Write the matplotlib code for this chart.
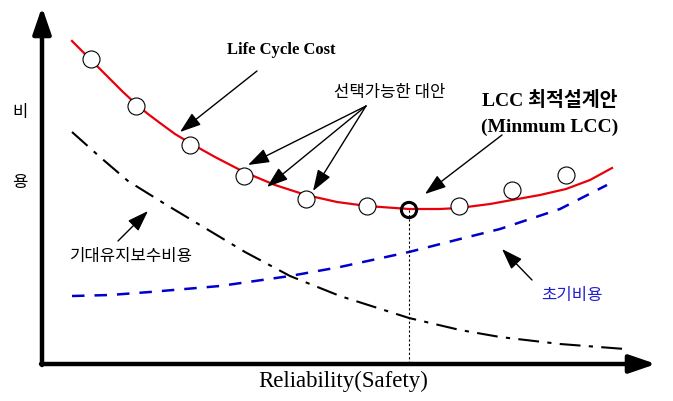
import matplotlib
matplotlib.use('Agg')
from matplotlib import pyplot as plt

# LCC curve (x: reliability position, y: cost in screen-like units, axis inverted)
lcc_x = [72, 91, 110, 123, 136, 148, 160, 175, 190, 215, 244, 275, 306, 337, 367, 409, 440, 459, 490, 512, 540, 566, 590, 612]
lcc_y = [42, 61, 80, 93, 105, 115, 124, 135, 144, 158, 173, 186, 196, 203, 207, 210, 210, 209, 205, 201, 196, 190, 181, 169]

# alternatives (circles) and the optimum
alt_x = [91, 136, 190, 244, 306, 367, 459, 512, 566]
alt_y = [60, 107, 146, 177, 200, 207, 207, 191, 176]
opt_x, opt_y = 409, 211

# expected maintenance cost (dash-dot)
maint_x = [72, 100, 128, 165, 200, 245, 290, 340, 409, 460, 500, 560, 625]
maint_y = [133, 158, 182, 205, 226, 253, 277, 297, 319, 331, 338, 345, 350]

# initial cost (dashed blue)
init_x = [72, 110, 150, 220, 290, 340, 409, 460, 500, 560, 607]
init_y = [297, 296, 293, 287, 277, 268, 253, 240, 230, 210, 186]

serif = ['Liberation Serif', 'Noto Sans CJK KR']
kr = ['Noto Sans CJK KR', 'DejaVu Sans']


def main():
    fig = plt.figure(figsize=(6.73, 4.02), dpi=100)
    ax = fig.add_axes([0, 0, 1, 1])
    ax.set_xlim(0, 673)
    ax.set_ylim(402, 0)
    ax.axis('off')

    # axes with arrows
    ax.annotate('', xy=(42, 8), xytext=(42, 366),
                arrowprops=dict(arrowstyle='-|>,head_length=1.6,head_width=0.55', lw=3.2,
                                color='black', shrinkA=0, shrinkB=0, mutation_scale=10))
    ax.annotate('', xy=(656, 365), xytext=(41, 365),
                arrowprops=dict(arrowstyle='-|>,head_length=1.6,head_width=0.55', lw=3.2,
                                color='black', shrinkA=0, shrinkB=0, mutation_scale=10))

    ax.plot(maint_x, maint_y, color='black', lw=1.5, linestyle=(0, (10, 4, 2, 4)))
    ax.plot(init_x, init_y, color='#0000cc', lw=1.8, linestyle=(0, (5, 4)))
    ax.plot(lcc_x, lcc_y, color='#e8000b', lw=1.6)

    ax.plot([opt_x, opt_x], [opt_y, 365], color='black', lw=0.8, linestyle=(0, (2, 2)))
    ax.scatter(alt_x, alt_y, s=150, facecolor='white', edgecolor='black', linewidth=0.8, zorder=5)
    ax.scatter([opt_x], [opt_y], s=120, facecolor='none', edgecolor='black', linewidth=2.2, zorder=5)

    arr = dict(arrowstyle='-|>,head_length=1.3,head_width=0.45', lw=1.0, color='black',
               shrinkA=0, shrinkB=0, mutation_scale=10)

    ax.text(281, 50, 'Life Cycle Cost', family=serif, fontweight='bold', fontsize=12,
            ha='center', va='center')
    ax.annotate('', xy=(180, 133), xytext=(257, 72), arrowprops=arr)

    ax.text(390, 93, '선택가능한 대안', family=kr, fontsize=12, ha='center', va='center')
    for tx, ty in [(248, 166), (267, 188), (313, 192)]:
        ax.annotate('', xy=(tx, ty), xytext=(366, 107), arrowprops=arr)

    ax.text(550, 101, 'LCC 최적설계안', family=serif, fontweight='bold', fontsize=14,
            ha='center', va='center')
    ax.text(550, 127, '(Minmum LCC)', family=serif, fontweight='bold', fontsize=14,
            ha='center', va='center')
    ax.annotate('', xy=(425, 195), xytext=(502, 136), arrowprops=arr)

    ax.text(131, 256, '기대유지보수비용', family=kr, fontsize=12, ha='center', va='center')
    ax.annotate('', xy=(148, 212), xytext=(118, 242), arrowprops=arr)

    ax.text(572, 296, '초기비용', family=kr, fontsize=12, color='#2020cc', ha='center', va='center')
    ax.annotate('', xy=(502, 250), xytext=(532, 281), arrowprops=arr)

    ax.text(20, 112, '비', family=kr, fontsize=12, ha='center', va='center')
    ax.text(20, 183, '용', family=kr, fontsize=12, ha='center', va='center')

    ax.text(343, 381, 'Reliability(Safety)', family=serif, fontsize=16.5, ha='center', va='center')

    fig.savefig('out.png', dpi=100)


if __name__ == '__main__':
    main()
